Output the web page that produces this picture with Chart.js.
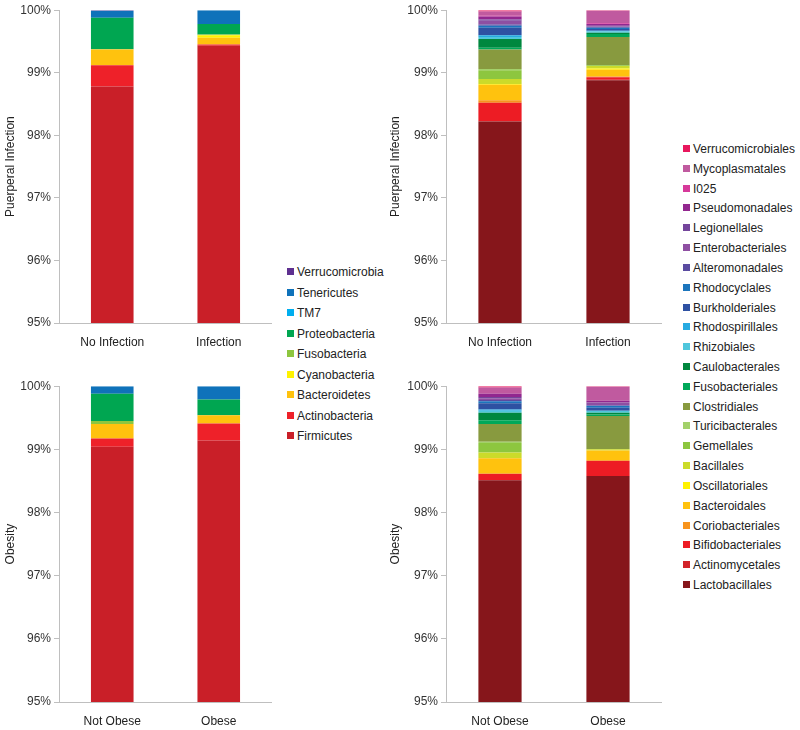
<!DOCTYPE html>
<html>
<head>
<meta charset="utf-8">
<script src="https://cdn.jsdelivr.net/npm/chart.js@4/dist/chart.umd.min.js"></script>
<style>
  body { margin: 0; background: #fff; font-family: "Liberation Sans", Arial, sans-serif; }
  #page { position: relative; width: 800px; height: 730px; overflow: hidden; }
  canvas { position: absolute; }
  .legend { position: absolute; font-size: 12px; color: #222; }
  .legend div { position: absolute; white-space: nowrap; line-height: 14px; }
  .legend span { display: inline-block; width: 7px; height: 7px; margin-right: 3px; vertical-align: 1px; }
</style>
</head>
<body>
<div id="page">
  <canvas id="phylaInf" width="272" height="360" style="left:0;top:0"></canvas>
  <canvas id="ordersInf" width="277" height="360" style="left:385px;top:0"></canvas>
  <canvas id="phylaOb" width="272" height="352" style="left:0;top:376px"></canvas>
  <canvas id="ordersOb" width="277" height="352" style="left:385px;top:376px"></canvas>
  <div class="legend" id="phylaLegend" style="left:287px;top:265px"></div>
  <div class="legend" id="ordersLegend" style="left:683px;top:142px"></div>
</div>
<script>
// groups
const infectionGroups = ['No Infection', 'Infection'];
const obesityGroups = ['Not Obese', 'Obese'];

// phyla, bottom of stack first
const phyla = ['Firmicutes', 'Actinobacteria', 'Bacteroidetes', 'Cyanobacteria', 'Fusobacteria',
  'Proteobacteria', 'TM7', 'Tenericutes', 'Verrucomicrobia'];
const phylaNoInfection = [98.78, 0.34, 0.25, 0, 0.01, 0.50, 0, 0.11, 0.01];
const phylaInfection = [99.43, 0.02, 0.11, 0.04, 0.01, 0.17, 0, 0.22, 0];
const phylaNotObese = [99.04, 0.13, 0.23, 0, 0.05, 0.43, 0, 0.12, 0];
const phylaObese = [99.14, 0.27, 0.13, 0, 0, 0.25, 0, 0.21, 0];
const phylaColors = ['#c91f28', '#ee2129', '#ffc20e', '#fff200', '#8dc63f',
  '#00a651', '#00aeef', '#0f72ba', '#5e3090'];

// orders, bottom of stack first
const orders = ['Lactobacillales', 'Actinomycetales', 'Bifidobacteriales', 'Coriobacteriales',
  'Bacteroidales', 'Oscillatoriales', 'Bacillales', 'Gemellales', 'Turicibacterales',
  'Clostridiales', 'Fusobacteriales', 'Caulobacterales', 'Rhizobiales', 'Rhodospirillales',
  'Burkholderiales', 'Rhodocyclales', 'Alteromonadales', 'Enterobacteriales', 'Legionellales',
  'Pseudomonadales', 'I025', 'Mycoplasmatales', 'Verrucomicrobiales'];
const ordersNoInfection = [98.22, 0.01, 0.29, 0.04, 0.25, 0.01, 0.08, 0.14, 0.02, 0.31, 0.03,
  0.14, 0.03, 0.03, 0.12, 0.03, 0.02, 0.06, 0.02, 0.05, 0.01, 0.07, 0.02];
const ordersInfection = [98.88, 0.01, 0.04, 0.01, 0.11, 0.02, 0.04, 0.01, 0, 0.45, 0.05,
  0.02, 0.02, 0.01, 0.03, 0.02, 0.01, 0.01, 0.01, 0.03, 0.01, 0.20, 0.01];
const ordersNotObese = [98.51, 0, 0.10, 0.01, 0.24, 0, 0.09, 0.15, 0.02, 0.28, 0.06,
  0.12, 0.03, 0.02, 0.10, 0.03, 0.02, 0.03, 0.02, 0.05, 0, 0.10, 0.02];
const ordersObese = [98.58, 0, 0.24, 0, 0.16, 0, 0.02, 0, 0, 0.53, 0.02,
  0.03, 0.03, 0, 0.05, 0.03, 0, 0.05, 0, 0.03, 0, 0.22, 0.01];
const ordersColors = ['#86161b', '#d2232a', '#ed1c24', '#f7941d', '#ffc20e', '#fff200',
  '#cbdb2a', '#8dc63f', '#a3d16a', '#889a3f', '#00a859', '#00873e', '#4fc6dc', '#27aae1',
  '#2e51a2', '#1c75bc', '#5a4ba0', '#8e4fa2', '#74459b', '#92278f', '#d6399a', '#c05a9f',
  '#e8175d'];

const yTicks = [95, 96, 97, 98, 99, 100];

Chart.defaults.font.family = '"Liberation Sans", Arial, sans-serif';
Chart.defaults.font.size = 12;
Chart.defaults.color = '#333';

function makeChart(id, groups, names, colors, seriesA, seriesB, title, axisWidth, xHeight) {
  const datasets = names.map((n, i) => ({
    label: n,
    data: [seriesA[i], seriesB[i]],
    backgroundColor: colors[i],
    borderWidth: 0,
    barPercentage: 0.4,
    categoryPercentage: 1
  }));
  return new Chart(document.getElementById(id), {
    type: 'bar',
    data: { labels: groups, datasets: datasets },
    options: {
      responsive: false,
      animation: false,
      layout: { padding: { top: 7, right: 0, left: 0, bottom: 0 } },
      plugins: { legend: { display: false }, tooltip: { enabled: false } },
      scales: {
        x: {
          stacked: true,
          grid: { display: false },
          border: { color: '#bfbfbf' },
          ticks: { padding: 4, color: '#222' },
          afterFit: (s) => { s.height = xHeight; }
        },
        y: {
          stacked: true,
          min: 95,
          max: 100,
          afterBuildTicks: (s) => { s.ticks = yTicks.map(v => ({ value: v })); },
          ticks: { padding: 3, color: '#333', callback: (v) => v + '%' },
          grid: { drawOnChartArea: false, tickLength: 5, color: '#bfbfbf' },
          border: { color: '#bfbfbf' },
          title: { display: true, text: title, color: '#222', padding: { top: 3, bottom: 0 } },
          afterFit: (s) => { s.width = axisWidth; }
        }
      }
    }
  });
}

makeChart('phylaInf', infectionGroups, phyla, phylaColors, phylaNoInfection, phylaInfection,
  'Puerperal Infection', 59, 37);
makeChart('ordersInf', infectionGroups, orders, ordersColors, ordersNoInfection, ordersInfection,
  'Puerperal Infection', 61, 37);
makeChart('phylaOb', obesityGroups, phyla, phylaColors, phylaNotObese, phylaObese,
  'Obesity', 59, 26);
makeChart('ordersOb', obesityGroups, orders, ordersColors, ordersNotObese, ordersObese,
  'Obesity', 61, 26);

// legends, top of stack listed first
function buildLegend(elId, names, colors, step) {
  const el = document.getElementById(elId);
  for (let i = names.length - 1, row = 0; i >= 0; i--, row++) {
    const d = document.createElement('div');
    d.style.top = (row * step) + 'px';
    d.innerHTML = '<span style="background:' + colors[i] + '"></span>' + names[i];
    el.appendChild(d);
  }
}
buildLegend('phylaLegend', phyla, phylaColors, 20.5);
buildLegend('ordersLegend', orders, ordersColors, 19.82);
</script>
</body>
</html>
